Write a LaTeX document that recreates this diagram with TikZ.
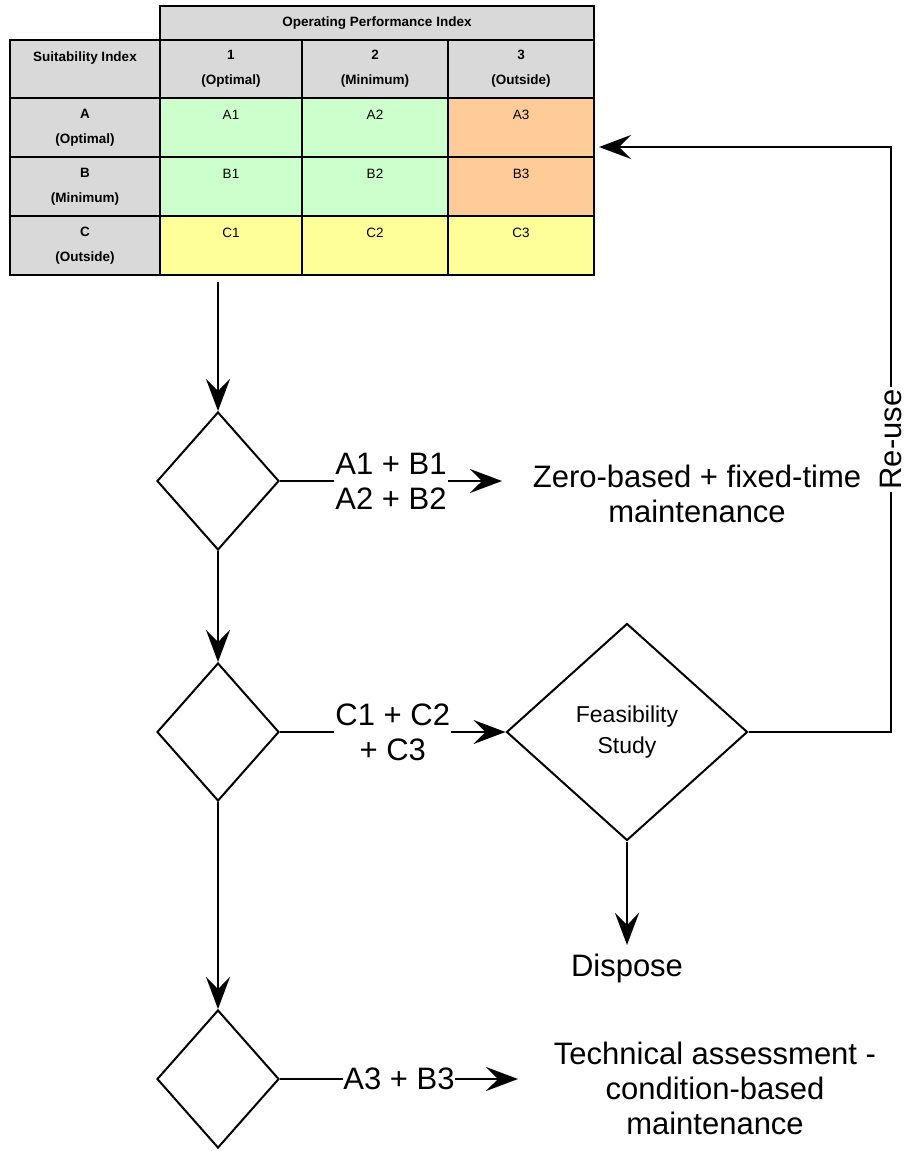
\documentclass[tikz,border=0pt]{standalone}
\usepackage{fontspec}
\setmainfont{Liberation Sans}
\usetikzlibrary{arrows.meta,shapes.geometric}
\definecolor{hdrgray}{HTML}{D9D9D9}
\definecolor{okgreen}{HTML}{CCFFCC}
\definecolor{warnorange}{HTML}{FFCC99}
\definecolor{badyellow}{HTML}{FFFF99}
\begin{document}
\begin{tikzpicture}[x=1pt,y=-1pt,
  cell/.style={draw=black,line width=1.3pt,inner sep=0pt,outer sep=0pt,align=center,
    font=\fontsize{13.5}{25}\selectfont},
  hcell/.style={cell,fill=hdrgray,font=\fontsize{13.5}{25}\selectfont\bfseries},
  colA/.style={minimum width=150pt},
  colB/.style={minimum width=142pt},
  colC/.style={minimum width=146pt},
  rowh/.style={minimum height=59pt},
  decision/.style={diamond,draw=black,line width=2pt,inner sep=0pt,
    minimum width=122pt,minimum height=138pt},
  flow/.style={line width=2pt,-{Stealth[length=32pt,width=24pt,inset=12pt]}},
  big/.style={font=\fontsize{31}{35}\selectfont,align=center},
  lbl/.style={big,fill=white,inner sep=1pt}
]
\useasboundingbox (0,0) rectangle (907,1151);

% --- index matrix ---
\node[hcell,minimum width=434pt,minimum height=34pt] (opi) at (377,23) {Operating Performance Index};
\node[hcell,colA,minimum height=58pt] (si) at (85,69) {Suitability Index\\\mbox{}};
\node[hcell,colB,minimum height=58pt] (p1) at (231,69) {1\\(Optimal)};
\node[hcell,colC,minimum height=58pt] (p2) at (375,69) {2\\(Minimum)};
\node[hcell,colC,minimum height=58pt] (p3) at (521,69) {3\\(Outside)};

\node[hcell,colA,rowh] (ra) at (85,127.5) {A\\(Optimal)};
\node[cell,colB,rowh,fill=okgreen] (a1) at (231,127.5) {A1\\\mbox{}};
\node[cell,colC,rowh,fill=okgreen] (a2) at (375,127.5) {A2\\\mbox{}};
\node[cell,colC,rowh,fill=warnorange] (a3) at (521,127.5) {A3\\\mbox{}};

\node[hcell,colA,rowh] (rb) at (85,186.5) {B\\(Minimum)};
\node[cell,colB,rowh,fill=okgreen] (b1) at (231,186.5) {B1\\\mbox{}};
\node[cell,colC,rowh,fill=okgreen] (b2) at (375,186.5) {B2\\\mbox{}};
\node[cell,colC,rowh,fill=warnorange] (b3) at (521,186.5) {B3\\\mbox{}};

\node[hcell,colA,rowh] (rc) at (85,245.5) {C\\(Outside)};
\node[cell,colB,rowh,fill=badyellow] (c1) at (231,245.5) {C1\\\mbox{}};
\node[cell,colC,rowh,fill=badyellow] (c2) at (375,245.5) {C2\\\mbox{}};
\node[cell,colC,rowh,fill=badyellow] (c3) at (521,245.5) {C3\\\mbox{}};

% --- decisions ---
\coordinate (tabout) at (218,282);
\node[decision] (d1) at (218,481) {};
\node[decision] (d2) at (218,732) {};
\node[decision] (d3) at (218,1079) {};
\node[decision,minimum width=241pt,minimum height=217pt,
  font=\fontsize{23}{31}\selectfont,align=center] (fs) at (627,732) {Feasibility\\Study};

% --- outcomes ---
\coordinate (t1) at (502,481);
\coordinate (t3) at (518,1079);
\coordinate (dsp) at (627,945);
\coordinate (rt) at (891,147);
\coordinate (rin) at (599,147);
\node[big] (zero) at (697,494) {Zero-based + fixed-time\\maintenance};
\node[big] (dispose) at (627,968) {Dispose};
\node[big] (tech) at (715,1088) {Technical assessment -\\condition-based\\maintenance};

% --- connectors ---
\draw[flow] (tabout) -- (d1.north);
\draw[flow] (d1.south) -- (d2.north);
\draw[flow] (d2.south) -- (d3.north);
\draw[flow] (d1.east) -- node[lbl] {A1 + B1\\A2 + B2} (t1);
\draw[flow] (d2.east) -- node[lbl] {C1 + C2\\+ C3} (fs.west);
\draw[flow] (d3.east) -- node[lbl,inner sep=0pt] {A3 + B3} (t3);
\draw[flow] (fs.south) -- (dsp);
\draw[flow] (fs.east) -- (fs.east -| rt) -- node[lbl,rotate=90,inner sep=3pt] {Re-use} (rt) -- (rin);
\end{tikzpicture}
\end{document}
